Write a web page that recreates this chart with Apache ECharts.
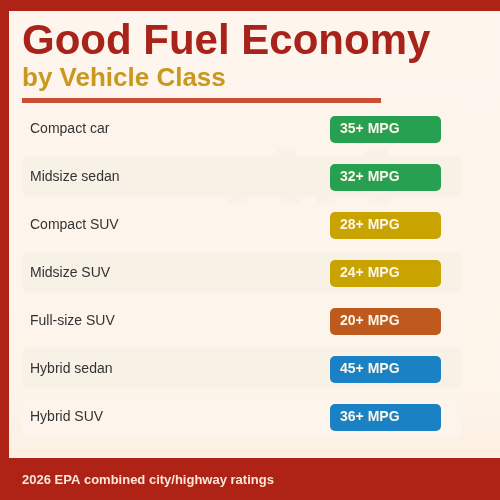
<!DOCTYPE html>
<html lang="en">
  <head>
    <meta charset="UTF-8" />
    <title>Good Fuel Economy</title>
    <script src="https://cdn.jsdelivr.net/npm/echarts@6/dist/echarts.min.js"></script>
    <style>
      html, body { margin: 0; padding: 0; }
    </style>
  </head>
  <body>
    <div id="main" style="width: 500px; height: 500px"></div>
    <script type="text/javascript">
      const classes = [
        "Compact car",
        "Midsize sedan",
        "Compact SUV",
        "Midsize SUV",
        "Full-size SUV",
        "Hybrid sedan",
        "Hybrid SUV",
      ];
      const mpg = [35, 32, 28, 24, 20, 45, 36];
      const badgeColors = ["#27a052", "#27a052", "#c9a400", "#c9a400", "#bf5a1f", "#1a82c4", "#1a82c4"];
      const rowColors = ["#fdf5ec", "#f7f1e6"];
      const font = "Liberation Sans";

      // the badges all have the same length, the value only shows in the text
      const badgeStart = 308;
      const badgeEnd = 419;

      // faint shapes behind the rows
      const ghost = (points) => ({
        type: "polygon",
        z: 1,
        shape: { points: points },
        style: { fill: "#f9f2e8" },
      });

      let options = {
        backgroundColor: "#ae2315",
        animation: false,
        title: [
          {
            text: "Good Fuel Economy",
            left: 22,
            top: 21,
            padding: 0,
            textStyle: { fontFamily: font, fontSize: 42, fontWeight: "bold", color: "#a8231a" },
          },
          {
            text: "by Vehicle Class",
            left: 22,
            top: 66,
            padding: 0,
            textStyle: { fontFamily: font, fontSize: 26, fontWeight: "bold", color: "#c8991c" },
          },
          {
            text: "2026 EPA combined city/highway ratings",
            left: 22,
            top: 474,
            padding: 0,
            textStyle: { fontFamily: font, fontSize: 13, fontWeight: "bold", color: "#fbe6d8" },
          },
        ],
        graphic: [
          {
            type: "rect",
            z: 0,
            shape: { x: 9, y: 11, width: 491, height: 447 },
            style: {
              fill: new echarts.graphic.LinearGradient(0, 0, 0, 1, [
                { offset: 0, color: "#fef5ee" },
                { offset: 0.85, color: "#fdf4ea" },
                { offset: 1, color: "#fcf0e2" },
              ]),
            },
          },
          {
            type: "rect",
            z: 1,
            shape: { x: 22, y: 98, width: 359, height: 5 },
            style: { fill: "#c94f36" },
          },
          ghost([[278, 148], [298, 148], [295, 157], [272, 157]]),
          ghost([[368, 148], [386, 148], [388, 157], [364, 157]]),
          ghost([[225, 197], [246, 197], [250, 206], [229, 206]]),
          ghost([[282, 197], [302, 197], [299, 206], [278, 206]]),
          ghost([[315, 197], [333, 197], [338, 206], [319, 206]]),
          ghost([[370, 197], [392, 197], [389, 206], [368, 206]]),
        ],
        grid: { left: 22, top: 105, width: 440, height: 336 },
        xAxis: { type: "value", min: 0, max: 440, show: false },
        yAxis: {
          type: "category",
          data: classes,
          inverse: true,
          z: 5,
          axisLine: { show: false },
          axisTick: { show: false },
          axisLabel: {
            inside: true,
            margin: 8,
            fontFamily: font,
            fontSize: 14,
            color: "#333333",
          },
        },
        series: [
          {
            type: "custom",
            z: 2,
            data: mpg.map((v, i) => [i, v]),
            encode: { y: 0 },
            renderItem: (params, api) => {
              const i = api.value(0);
              const left = api.coord([0, i]);
              const right = api.coord([440, i]);
              return {
                type: "rect",
                shape: { x: left[0], y: left[1] - 20.5, width: right[0] - left[0], height: 40, r: 5 },
                style: { fill: rowColors[i % 2] },
              };
            },
          },
          {
            type: "custom",
            z: 3,
            data: mpg.map((v, i) => [i, v]),
            encode: { y: 0 },
            renderItem: (params, api) => {
              const i = api.value(0);
              const start = api.coord([badgeStart, i]);
              const end = api.coord([badgeEnd, i]);
              return {
                type: "rect",
                shape: { x: start[0], y: start[1] - 13, width: end[0] - start[0], height: 27, r: 5 },
                style: { fill: badgeColors[i] },
                textContent: {
                  style: {
                    text: api.value(1) + "+ MPG",
                    fontFamily: font,
                    fontSize: 14,
                    fontWeight: "bold",
                    fill: "#fdf5e8",
                  },
                },
                textConfig: { position: "insideLeft", distance: 10, offset: [0, -0.5] },
              };
            },
          },
        ],
      };
      let myChart = echarts.init(document.getElementById("main"));
      myChart.setOption(options);
    </script>
  </body>
</html>
